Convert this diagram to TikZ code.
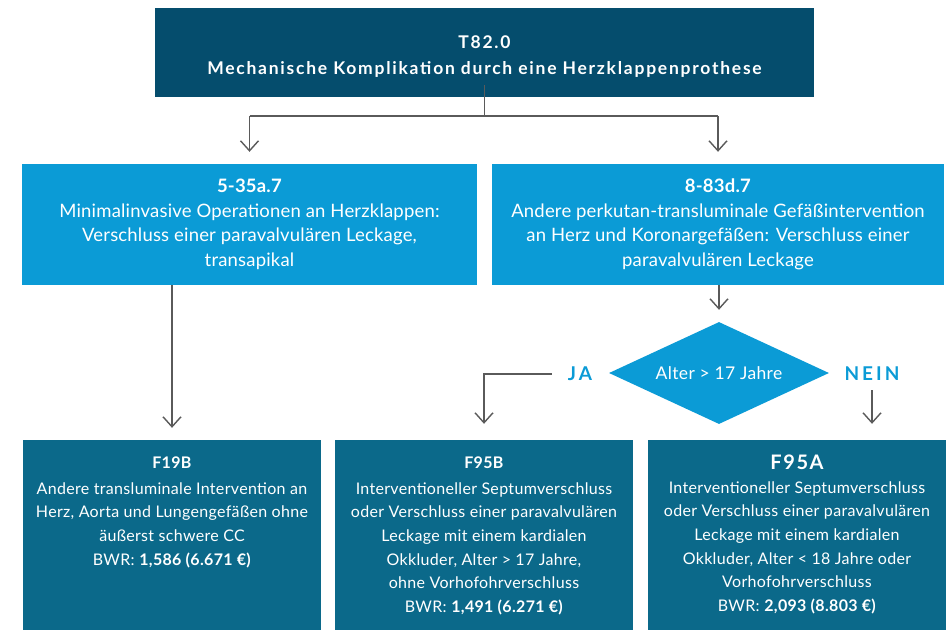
\documentclass[tikz,border=0pt]{standalone}
\usepackage{fontspec}
\setmainfont{Lato}
\usetikzlibrary{arrows.meta,shapes.geometric,calc}
\definecolor{topc}{HTML}{054D6D}
\definecolor{midc}{HTML}{0B9BD6}
\definecolor{botc}{HTML}{0B698A}
\definecolor{linec}{HTML}{5A5A5A}
\tikzset{
  box/.style={draw=none, inner sep=0pt, text=white, align=center},
  conn/.style={draw=linec, line width=1.4pt},
  arr/.style={conn, -{Straight Barb[length=10pt,width=18pt,line width=1.4pt]}},
  lbl/.style={inner sep=0pt, text=midc, font=\fontsize{19}{20}\selectfont\bfseries\addfontfeatures{LetterSpace=16}},
  bottxt/.style={inner sep=0pt, text=white, align=center, anchor=north,
    font=\fontsize{16}{23.6}\selectfont\addfontfeatures{LetterSpace=2}}
}
\begin{document}
\begin{tikzpicture}[x=1pt,y=-1pt]
\useasboundingbox (0,0) rectangle (946,630);
% top
\node[box, fill=topc, minimum width=659pt, minimum height=89pt] (top) at (484.5,52.5) {};
\node[box, font=\fontsize{17.5}{26}\selectfont\bfseries\addfontfeatures{LetterSpace=10}]
  at ([yshift=-4pt]top.center)
  {T82.0\\Mechanische Komplikation durch eine Herzklappenprothese};
% middle
\node[box, fill=midc, minimum width=455pt, minimum height=121pt,
  font=\fontsize{18.5}{24.5}\selectfont\addfontfeatures{LetterSpace=1}] (lm) at (249.5,224.5)
  {\textbf{5-35a.7}\\Minimalinvasive Operationen an Herzklappen:\\Verschluss einer paravalvulären Leckage,\\transapikal};
\node[box, fill=midc, minimum width=452pt, minimum height=121pt,
  font=\fontsize{18.5}{24.5}\selectfont\addfontfeatures{LetterSpace=1}] (rm) at (718,224.5)
  {\textbf{8-83d.7}\\Andere perkutan-transluminale Gefäßintervention\\an Herz und Koronargefäßen: Verschluss einer\\paravalvulären Leckage};
% diamond
\node[diamond, fill=midc, inner sep=0pt, aspect=2.16, minimum width=220pt, minimum height=102pt,
  text=white, font=\fontsize{17.5}{18}\selectfont\addfontfeatures{LetterSpace=2}] (dia) at (719,373) {Alter > 17 Jahre};
\node[lbl] (ja) at (580,374) {JA};
\node[lbl] (nein) at (872,374) {NEIN};
% bottom boxes
\node[box, fill=botc, minimum width=298pt, minimum height=190pt] (f19) at (172,535) {};
\node[box, fill=botc, minimum width=298pt, minimum height=190pt] (f95b) at (484,535) {};
\node[box, fill=botc, minimum width=298pt, minimum height=190pt] (f95a) at (797,535) {};
\node[bottxt] at ([yshift=-17pt]f19.north)
  {\textbf{F19B}\\[2pt]Andere transluminale Intervention an\\Herz, Aorta und Lungengefäßen ohne\\äußerst schwere CC\\BWR: \textbf{1,586 (6.671 €)}};
\node[bottxt] at ([yshift=-17pt]f95b.north)
  {\textbf{F95B}\\[2pt]Interventioneller Septumverschluss\\oder Verschluss einer paravalvulären\\Leckage mit einem kardialen\\Okkluder, Alter > 17 Jahre,\\ohne Vorhofohrverschluss\\BWR: \textbf{1,491 (6.271 €)}};
\node[bottxt] at ([yshift=-15pt]f95a.north)
  {{\fontsize{20}{20}\selectfont\bfseries\addfontfeatures{LetterSpace=8}F95A}\\Interventioneller Septumverschluss\\oder Verschluss einer paravalvulären\\Leckage mit einem kardialen\\Okkluder, Alter < 18 Jahre oder\\Vorhofohrverschluss\\BWR: \textbf{2,093 (8.803 €)}};
% connectors
\coordinate (j) at (484.5,116);
\draw[conn] ([yshift=12pt]top.south) -- (j);
\draw[conn] (j -| lm.north) -- (j -| rm.north);
\draw[arr, shorten >=12pt] (j -| lm.north) -- (lm.north);
\draw[arr, shorten >=12pt] (j -| rm.north) -- (rm.north);
\draw[arr, shorten >=12pt] (lm.south -| f19.north) -- (f19.north);
\draw[arr, shorten >=12pt] (rm.south -| dia.north) -- (dia.north);
\draw[arr, shorten >=16pt] ([xshift=-16pt]ja.west) -| (f95b.north);
\draw[arr, shorten >=16pt] ([yshift=-9pt]nein.south) -- (nein.south |- f95a.north);
\end{tikzpicture}
\end{document}
